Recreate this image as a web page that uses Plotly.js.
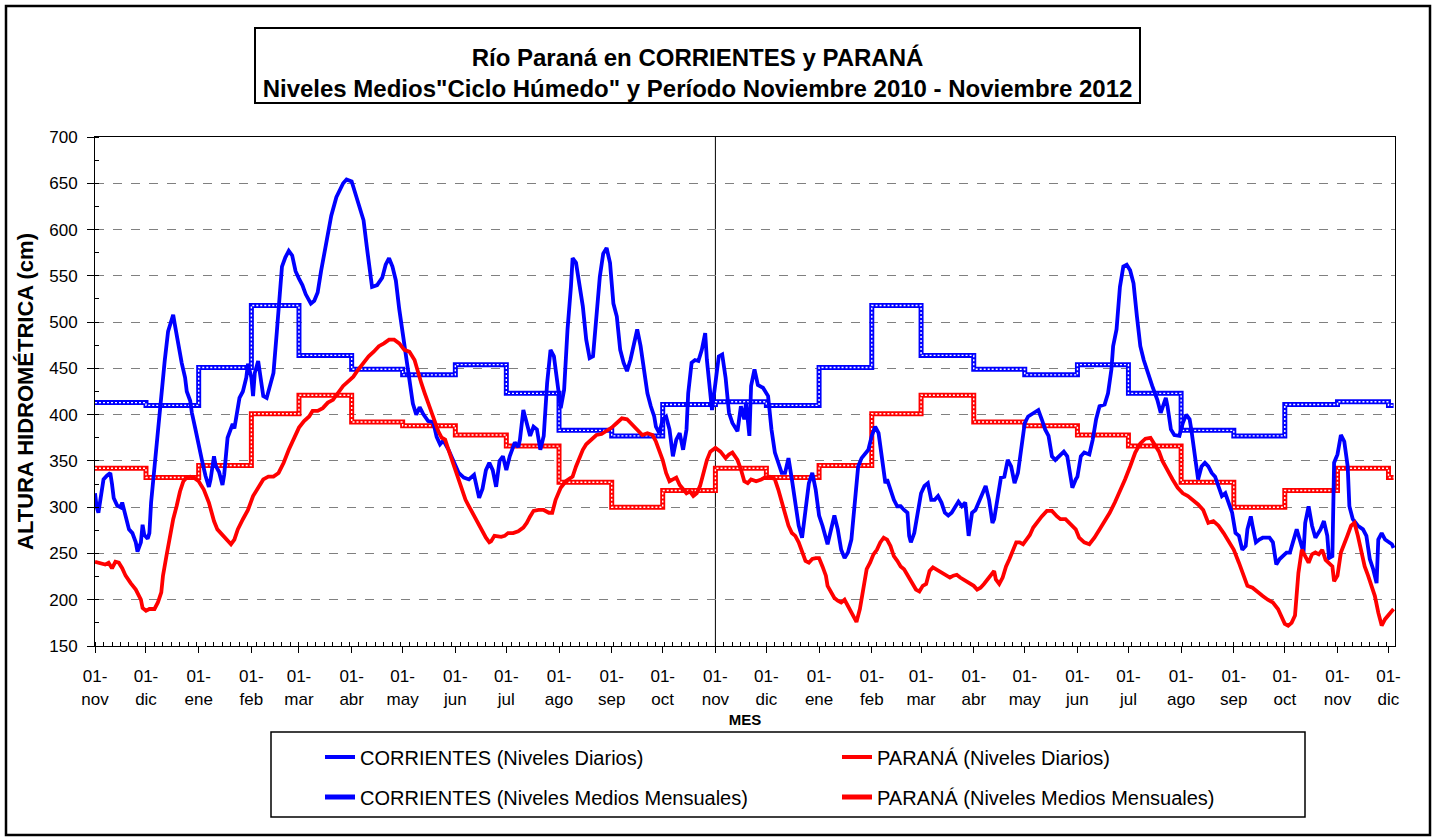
<!DOCTYPE html>
<html>
<head>
<meta charset="utf-8">
<script src="https://cdn.plot.ly/plotly-3.0.1.min.js"></script>
<style>
html,body{margin:0;padding:0;background:#fff;}
#chart{width:1437px;height:838px;}
</style>
</head>
<body>
<div id="chart"></div>
<script>
// ---------- DATA ----------
// Daily series: days counted from the series start (2010-11-01)
const SERIES_START_UTC = Date.UTC(2010, 10, 1);

const corrDays = [0,1,2,4,5,7,9,10,11,13,15,16,17,19,20,22,24,25,27,28,29,31,32,33,35,37,39,41,43,45,46,47,49,51,53,54,56,57,59,61,63,65,67,68,70,71,73,75,76,78,80,81,82,84,85,87,89,90,92,93,94,96,98,99,101,103,105,107,109,110,112,114,116,118,120,122,124,127,129,131,133,136,139,142,144,146,148,151,152,155,158,160,162,163,166,169,171,173,175,177,179,181,182,184,187,189,191,193,196,199,201,203,205,208,211,214,217,220,223,226,228,230,232,234,236,238,240,242,244,247,249,250,252,254,256,258,260,262,264,266,268,270,272,274,276,278,280,281,283,285,287,289,291,293,295,297,299,301,303,305,307,309,311,313,315,317,319,321,323,325,327,329,330,332,334,336,338,340,342,344,346,348,349,351,353,355,357,359,360,362,363,365,367,369,371,373,375,378,380,382,383,385,386,388,390,393,396,398,400,402,404,406,408,410,412,414,416,418,420,422,424,426,428,431,433,435,437,439,441,443,445,447,449,451,453,455,457,459,461,463,465,466,468,470,472,474,476,478,479,480,482,484,486,488,490,492,494,496,498,500,502,504,506,508,510,512,514,516,518,520,522,524,526,528,529,531,533,535,537,539,541,543,545,547,549,552,555,557,559,561,563,565,567,570,572,574,575,577,578,580,582,585,587,589,591,594,596,598,599,601,603,605,607,609,611,613,615,617,619,622,625,627,630,631,633,635,638,640,642,644,645,647,649,651,653,655,657,659,661,663,665,667,669,671,673,675,677,678,680,681,683,685,687,689,691,693,695,697,699,701,703,705,707,708,711,712,714,716,718,721,723,725,726,728,729,731,733,735,737,738,740,743,746,748,750,752,754,755,757,759,761,763,764];
const corrLevels = [315,300,294,322,330,334,337,325,310,302,300,305,298,285,276,272,262,252,262,281,270,266,272,305,345,385,425,458,490,502,508,497,475,456,440,425,415,402,385,365,350,334,322,330,355,345,338,324,335,375,385,390,385,408,418,425,440,455,440,420,445,458,430,420,418,430,445,490,530,560,570,577,572,555,547,540,530,520,523,532,555,585,615,635,642,650,654,652,646,628,610,580,555,538,540,548,562,569,560,545,514,488,475,445,412,400,408,401,393,392,376,368,372,362,350,337,332,330,335,310,320,340,348,340,322,350,355,340,355,370,365,373,405,391,377,387,384,362,377,434,470,463,434,407,427,492,538,569,564,542,517,481,461,463,506,549,574,580,564,520,506,470,456,447,459,474,492,474,445,423,409,398,387,380,395,398,384,355,373,380,362,384,423,456,459,458,470,488,459,416,405,434,463,465,440,402,391,382,409,395,413,377,431,449,432,429,420,384,359,348,337,337,353,330,301,280,267,294,326,337,319,291,280,260,276,291,276,254,245,251,265,301,344,353,357,362,377,387,380,351,326,330,319,308,301,301,297,294,269,262,272,297,315,323,326,308,308,312,305,294,291,294,301,306,301,305,269,294,297,305,315,323,308,283,287,312,332,333,351,344,326,337,362,391,398,402,405,395,384,377,355,351,355,360,355,333,321,330,333,355,359,357,373,395,409,411,423,449,474,492,538,560,562,556,542,506,474,459,447,431,416,402,418,409,384,378,377,391,400,395,384,359,330,344,348,344,337,333,323,312,315,305,294,272,269,254,258,276,290,280,262,265,267,267,267,262,238,244,247,251,251,262,276,270,251,283,301,280,267,276,285,269,245,247,348,357,378,371,344,301,287,280,276,269,244,233,218,265,272,265,262,260,256];

const paranaDays = [0,3,6,8,10,12,14,16,18,21,24,27,28,30,32,35,37,39,40,42,44,46,48,50,52,54,56,58,61,64,67,70,72,75,78,80,82,84,87,90,93,96,99,102,105,108,111,114,117,120,123,126,128,131,134,137,140,143,146,149,152,155,158,161,164,167,170,173,176,179,182,185,188,190,192,194,196,198,200,202,204,206,208,210,212,214,216,218,220,222,224,226,228,230,232,233,235,237,239,241,243,246,249,252,254,256,258,261,264,267,269,271,274,277,279,281,283,285,287,289,292,295,298,301,304,307,310,313,316,319,322,325,328,330,332,334,336,338,340,342,344,346,348,350,352,354,356,358,360,362,365,368,371,373,375,378,380,382,384,386,389,392,394,397,400,402,404,406,408,410,412,414,416,418,420,422,424,426,428,430,431,433,435,437,439,441,443,445,447,448,450,452,454,456,458,460,462,464,466,468,470,472,474,476,478,479,481,483,485,487,489,491,493,495,497,499,501,503,505,507,509,511,513,515,517,519,521,523,525,527,529,530,532,534,536,538,540,542,544,546,548,550,552,554,557,560,563,566,568,571,574,577,579,582,585,588,591,594,597,600,603,606,609,612,615,618,621,623,626,628,631,634,637,640,643,646,649,652,655,658,661,664,667,670,673,676,678,681,684,687,690,693,696,698,700,702,704,706,708,710,712,714,716,718,720,722,724,726,728,729,731,733,735,737,739,741,743,745,747,749,751,753,755,757,759,761,763,764];
const paranaLevels = [241,240,238,240,234,241,240,234,226,218,211,200,191,188,190,190,197,208,226,247,269,287,301,317,328,332,333,332,328,319,305,285,276,270,265,260,265,276,287,297,312,321,330,333,333,337,348,362,373,386,393,398,404,404,407,413,416,423,431,436,441,449,456,463,468,474,477,481,481,477,470,468,459,445,434,423,413,402,391,382,375,373,362,351,341,330,319,308,301,294,287,280,274,267,262,263,269,268,268,269,272,272,274,278,283,290,296,297,297,294,294,308,321,328,330,333,344,353,362,368,373,378,379,382,386,391,396,395,389,384,378,380,378,371,362,351,337,328,330,332,324,319,315,317,312,315,323,337,351,360,364,360,353,357,359,351,341,328,326,330,328,330,332,333,330,319,305,290,280,272,269,262,251,242,240,244,245,245,236,226,215,208,202,199,197,200,193,186,179,176,190,211,233,240,249,254,262,267,265,258,247,242,236,233,227,224,218,211,209,215,217,231,235,233,231,229,227,224,226,227,224,222,220,218,215,211,213,217,222,227,231,222,217,224,236,244,253,262,262,260,265,270,278,283,290,296,296,290,287,287,281,276,267,262,260,267,276,285,294,305,317,330,344,359,369,374,375,369,360,350,339,330,321,315,312,308,303,297,283,285,280,272,262,254,240,226,215,213,208,204,200,197,190,183,174,172,175,183,229,254,247,240,249,251,249,254,243,240,236,220,226,251,262,270,280,283,269,251,236,226,215,204,186,172,179,184,188,190];

// Monthly mean levels ("Ciclo Húmedo"), one value per month, step drawn from the 1st of each month
const monthStarts = ['2010-11-01','2010-12-01','2011-01-01','2011-02-01','2011-03-01','2011-04-01','2011-05-01','2011-06-01','2011-07-01','2011-08-01','2011-09-01','2011-10-01',
                     '2011-11-01','2011-12-01','2012-01-01','2012-02-01','2012-03-01','2012-04-01','2012-05-01','2012-06-01','2012-07-01','2012-08-01','2012-09-01','2012-10-01',
                     '2012-11-01','2012-12-01'];
const periodEnd = '2012-12-04';
const corrMonthlyMean   = [413,410,451,518,464,449,443,454,423,383,377,411, 414,410,451,518,464,449,443,454,423,383,377,411, 414,410];
const paranaMonthlyMean = [342,332,345,401,421,392,388,378,366,327,300,318, 342,332,345,401,421,392,388,378,366,327,300,318, 342,332];

// Axis tick labels
const monthLabels = ['nov','dic','ene','feb','mar','abr','may','jun','jul','ago','sep','oct',
                     'nov','dic','ene','feb','mar','abr','may','jun','jul','ago','sep','oct','nov','dic'];
const cycleSplitDate = '2011-11-01';

// ---------- BUILD ----------
function dayToDate(d){
  return new Date(SERIES_START_UTC + d*86400000).toISOString().slice(0,10);
}
const corrDates = corrDays.map(dayToDate);
const paranaDates = paranaDays.map(dayToDate);
const stepDates = monthStarts.concat([periodEnd]);
const corrStep = corrMonthlyMean.concat([corrMonthlyMean[corrMonthlyMean.length-1]]);
const paranaStep = paranaMonthlyMean.concat([paranaMonthlyMean[paranaMonthlyMean.length-1]]);

const BLUE = '#0000ff', RED = '#ff0000';
const FONT = 'Liberation Sans, Arial, Helvetica, sans-serif';

const traces = [
  {x: stepDates, y: corrStep, type:'scatter', mode:'lines', line:{shape:'hv', color:BLUE, width:5},
   name:'CORRIENTES (Niveles Medios Mensuales)', legend:'legend2', hoverinfo:'skip'},
  {x: stepDates, y: corrStep, type:'scatter', mode:'lines', line:{shape:'hv', color:'#ffffff', width:1.4, dash:'2px,2px'},
   showlegend:false, hoverinfo:'skip'},
  {x: stepDates, y: paranaStep, type:'scatter', mode:'lines', line:{shape:'hv', color:RED, width:5},
   name:'PARANÁ (Niveles Medios Mensuales)', legend:'legend2', hoverinfo:'skip'},
  {x: stepDates, y: paranaStep, type:'scatter', mode:'lines', line:{shape:'hv', color:'#ffffff', width:1.4, dash:'2px,2px'},
   showlegend:false, hoverinfo:'skip'},
  {x: corrDates, y: corrLevels, type:'scatter', mode:'lines', line:{color:BLUE, width:3.8},
   name:'CORRIENTES (Niveles Diarios)', legend:'legend'},
  {x: paranaDates, y: paranaLevels, type:'scatter', mode:'lines', line:{color:RED, width:3.8},
   name:'PARANÁ (Niveles Diarios)', legend:'legend'}
];

// pixel -> paper helpers for decorations (plot area: x 95..1395, y 137..646)
const PL = 95, PW = 1300, PB = 646, PH = 509;
const px = v => (v - PL) / PW;
const py = v => (PB - v) / PH;

const legendCommon = {
  orientation:'h', xref:'container', yref:'container', xanchor:'left', yanchor:'middle',
  font:{family:FONT, size:20, color:'#000'},
  entrywidth:472, entrywidthmode:'pixels',
  bgcolor:'rgba(0,0,0,0)', borderwidth:0, traceorder:'normal'
};

const layout = {
  width:1437, height:838,
  margin:{l:95, r:42, t:137, b:192, pad:0, autoexpand:false},
  paper_bgcolor:'#ffffff', plot_bgcolor:'#ffffff',
  font:{family:FONT, color:'#000000'},
  title:{
    text:'<b>Río Paraná en CORRIENTES y PARANÁ</b><br><b>Niveles Medios"Ciclo Húmedo" y Período Noviembre 2010 - Noviembre 2012</b>',
    font:{family:FONT, size:24, color:'#000000'},
    x:px(697.5), xref:'paper', xanchor:'center',
    y:1 - 66/838, yref:'container', yanchor:'middle'
  },
  xaxis:{
    type:'date',
    range:['2010-11-01', '2012-12-04 20:00'],
    tickmode:'array', tickvals:monthStarts,
    ticktext:monthLabels.map(m => '01-<br>' + m),
    ticks:'outside', ticklen:6, tickcolor:'#000', tickwidth:1,
    ticklabelstandoff:9,
    tickfont:{family:FONT, size:17, color:'#000'},
    showline:true, linecolor:'#000', linewidth:1, mirror:true,
    showgrid:false, zeroline:false,
    minor:{tickmode:'linear', tick0:'2010-11-01', dtick:5*86400000, ticks:'inside', ticklen:4, tickcolor:'#000', showgrid:false},
    title:{text:'<b>MES</b>', font:{family:FONT, size:15, color:'#000'}, standoff:6}
  },
  yaxis:{
    range:[150,700], tick0:150, dtick:50,
    ticks:'outside', ticklen:7, tickcolor:'#000',
    ticklabelstandoff:6,
    tickfont:{family:FONT, size:17, color:'#000'},
    showline:true, linecolor:'#000', linewidth:1, mirror:true,
    showgrid:true, gridcolor:'#808080', griddash:'dash', gridwidth:1,
    zeroline:false,
    minor:{tickmode:'linear', tick0:150, dtick:25, ticks:'inside', ticklen:4, tickcolor:'#000', showgrid:false},
    title:{text:'<b>ALTURA HIDROMÉTRICA (cm)</b>', font:{family:FONT, size:22, color:'#000'}, standoff:9}
  },
  legend:Object.assign({}, legendCommon, {x:320/1437, y:1 - 757/838}),
  legend2:Object.assign({}, legendCommon, {x:320/1437, y:1 - 797/838}),
  shapes:[
    {type:'line', xref:'x', yref:'paper', x0:cycleSplitDate, x1:cycleSplitDate, y0:0, y1:1, line:{color:'#000', width:1}, layer:'below'},
    {type:'rect', xref:'paper', yref:'paper', x0:px(255), x1:px(1140), y0:py(103), y1:py(28), line:{color:'#000', width:2}, fillcolor:'rgba(0,0,0,0)'},
    {type:'rect', xref:'paper', yref:'paper', x0:px(271), x1:px(1305), y0:py(817), y1:py(732), line:{color:'#000', width:1.5}, fillcolor:'rgba(0,0,0,0)'},
    {type:'rect', xref:'paper', yref:'paper', x0:px(6), x1:px(1430), y0:py(835), y1:py(6), line:{color:'#000', width:2.5}, fillcolor:'rgba(0,0,0,0)'}
  ],
  showlegend:true,
  hovermode:'closest'
};

Plotly.newPlot('chart', traces, layout, {displayModeBar:false, responsive:false});
</script>
</body>
</html>
